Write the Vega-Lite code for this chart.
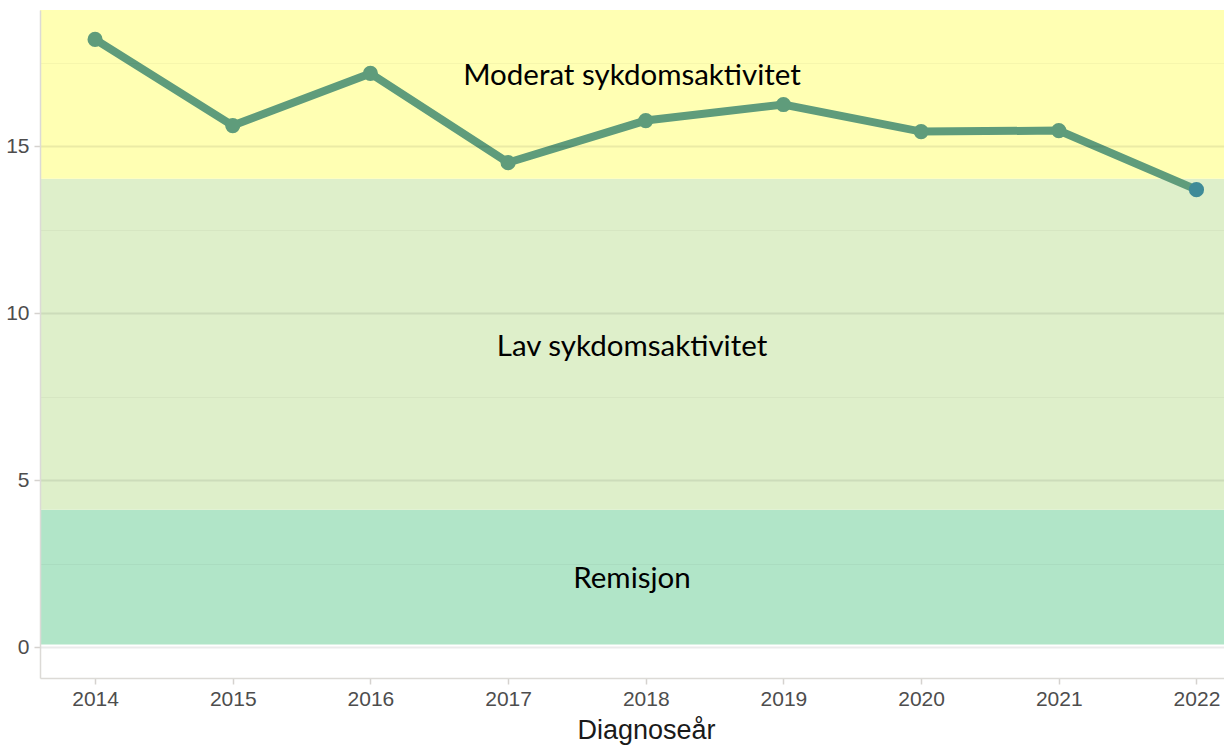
{
  "$schema": "https://vega.github.io/schema/vega-lite/v6.json",
  "width": 1184,
  "height": 668,
  "autosize": {"type": "none"},
  "padding": {"left": 40, "top": 10, "right": 0, "bottom": 69},
  "background": "white",
  "config": {"view": {"stroke": null}},
  "datasets": {
    "series": [
      {"year": 2014, "value": 18.2},
      {"year": 2015, "value": 15.62},
      {"year": 2016, "value": 17.18},
      {"year": 2017, "value": 14.51},
      {"year": 2018, "value": 15.77},
      {"year": 2019, "value": 16.25},
      {"year": 2020, "value": 15.44},
      {"year": 2021, "value": 15.47},
      {"year": 2022, "value": 13.7}
    ],
    "bands": [
      {"band": "Remisjon", "lo": 0.08, "hi": 4.12},
      {"band": "Lav", "lo": 4.12, "hi": 14.03},
      {"band": "Moderat", "lo": 14.03, "hi": 19.08}
    ],
    "labels": [
      {"text": "Moderat sykdomsaktivitet", "x": 2017.9, "y": 17.1},
      {"text": "Lav sykdomsaktivitet", "x": 2017.9, "y": 9.0},
      {"text": "Remisjon", "x": 2017.9, "y": 2.05}
    ]
  },
  "layer": [
    {
      "data": {"name": "bands"},
      "mark": {"type": "rect", "opacity": 1},
      "encoding": {
        "y": {"field": "lo", "type": "quantitative", "scale": {"domain": [-0.92, 19.08], "nice": false, "zero": false},
          "axis": {
            "title": null,
            "values": [0, 2.5, 5, 7.5, 10, 12.5, 15, 17.5],
            "labelExpr": "datum.value % 5 == 0 ? datum.label : ''",
            "labelFont": "Liberation Sans",
            "labelFontSize": 21,
            "labelColor": "#4d4d4d",
            "labelPadding": 5,
            "tickSize": 6,
            "tickColor": "#d5d2cf",
            "tickWidth": 1.5,
            "tickOpacity": {"condition": {"test": "datum.value % 5 != 0", "value": 0}, "value": 1},
            "domainColor": "#dcdad6",
            "domainWidth": 1.5,
            "grid": true,
            "gridColor": "#000000",
            "gridOpacity": {"condition": {"test": "datum.value % 5 != 0", "value": 0.035}, "value": 0.08},
            "gridWidth": {"condition": {"test": "datum.value % 5 != 0", "value": 1}, "value": 2},
            "zindex": 1
          }},
        "y2": {"field": "hi"},
        "color": {"field": "band", "type": "nominal", "legend": null,
          "scale": {"domain": ["Remisjon", "Lav", "Moderat"], "range": ["#b1e5c8", "#deefca", "#ffffb3"]}}
      }
    },
    {
      "data": {"name": "series"},
      "mark": {"type": "line", "stroke": "#5f9c7b", "strokeWidth": 8},
      "encoding": {
        "x": {"field": "year", "type": "quantitative",
          "scale": {"domain": [2013.6, 2022.2], "nice": false, "zero": false},
          "axis": {
            "title": "Diagnoseår",
            "titleFont": "Liberation Sans",
            "titleFontSize": 27,
            "titleFontWeight": "normal",
            "titleColor": "#1a1a1a",
            "titlePadding": 8,
            "titleX": 606,
            "titleAlign": "center",
            "values": [2014, 2015, 2016, 2017, 2018, 2019, 2020, 2021, 2022],
            "format": "d",
            "labelFont": "Liberation Sans",
            "labelFontSize": 21,
            "labelColor": "#4d4d4d",
            "labelPadding": 4,
            "tickSize": 6,
            "tickColor": "#d5d2cf",
            "tickWidth": 1.5,
            "domainColor": "#dcdad6",
            "domainWidth": 1.5,
            "grid": false
          }},
        "y": {"field": "value", "type": "quantitative"}
      }
    },
    {
      "data": {"name": "series"},
      "mark": {"type": "point", "filled": true, "size": 230, "opacity": 1},
      "encoding": {
        "x": {"field": "year", "type": "quantitative"},
        "y": {"field": "value", "type": "quantitative"},
        "color": {"condition": {"test": "datum.year == 2022", "value": "#3f8b98"}, "value": "#5f9c7b"}
      }
    },
    {
      "data": {"name": "labels"},
      "mark": {"type": "text", "font": "Lato", "fontSize": 29.5, "color": "#000000", "align": "center", "baseline": "middle"},
      "encoding": {
        "x": {"field": "x", "type": "quantitative"},
        "y": {"field": "y", "type": "quantitative"},
        "text": {"field": "text"}
      }
    }
  ]
}
